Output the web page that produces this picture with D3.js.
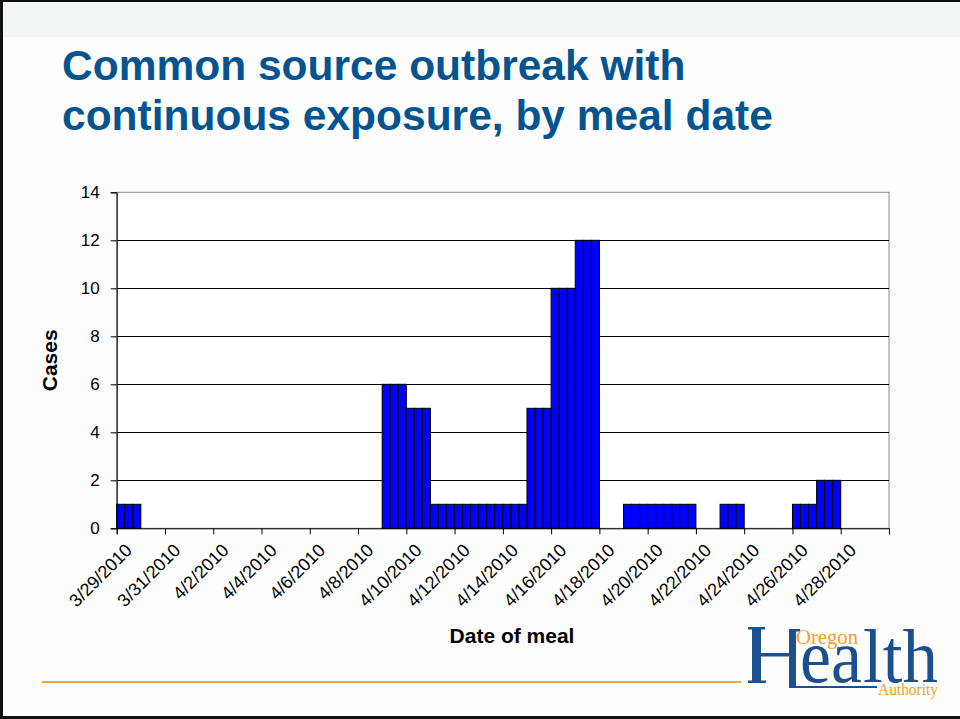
<!DOCTYPE html>
<html>
<head>
<meta charset="utf-8">
<script src="https://cdn.jsdelivr.net/npm/d3@7"></script>
<style>
  html, body { margin: 0; padding: 0; background: #ffffff; }
  svg { display: block; }
</style>
</head>
<body>
<svg id="slide" width="960" height="719"></svg>
<script>
// Meal dates (one per day) and cases per meal date
const mealDates = [
  '3/29/2010','3/30/2010','3/31/2010','4/1/2010','4/2/2010','4/3/2010','4/4/2010','4/5/2010',
  '4/6/2010','4/7/2010','4/8/2010','4/9/2010','4/10/2010','4/11/2010','4/12/2010','4/13/2010',
  '4/14/2010','4/15/2010','4/16/2010','4/17/2010','4/18/2010','4/19/2010','4/20/2010','4/21/2010',
  '4/22/2010','4/23/2010','4/24/2010','4/25/2010','4/26/2010','4/27/2010','4/28/2010','4/29/2010'
];
const cases = [
  1, 0, 0, 0, 0, 0, 0, 0,
  0, 0, 0, 6, 5, 1, 1, 1,
  1, 5, 10, 12, 0, 1, 1, 1,
  0, 1, 0, 0, 1, 2, 0, 0
];
// Each day is split into three meal slots
const mealSlots = ['slot1', 'slot2', 'slot3'];
// Axis labels shown every other day
const dateTickLabels = [
  '3/29/2010','3/31/2010','4/2/2010','4/4/2010','4/6/2010','4/8/2010','4/10/2010','4/12/2010',
  '4/14/2010','4/16/2010','4/18/2010','4/20/2010','4/22/2010','4/24/2010','4/26/2010','4/28/2010'
];
const yTicks = [0, 2, 4, 6, 8, 10, 12, 14];

const titleLines = ['Common source outbreak with', 'continuous exposure, by meal date'];

const svg = d3.select('#slide');
const W = 960, H = 719;

// ---- slide background ----
svg.append('rect').attr('x', 0).attr('y', 0).attr('width', W).attr('height', H).attr('fill', '#fdfdfd');
svg.append('rect').attr('x', 0).attr('y', 0).attr('width', W).attr('height', 37).attr('fill', '#f4f6f6');
// slide frame
svg.append('rect').attr('x', 0).attr('y', 0).attr('width', 3).attr('height', H).attr('fill', '#111');
svg.append('rect').attr('x', 0).attr('y', 0).attr('width', W).attr('height', 2).attr('fill', '#111');
svg.append('rect').attr('x', 0).attr('y', 716).attr('width', W).attr('height', 3).attr('fill', '#111');

// ---- title ----
svg.append('text')
  .attr('x', 62).attr('y', 80)
  .attr('font-family', '"Liberation Sans", Arial, sans-serif')
  .attr('font-weight', 'bold').attr('font-size', 42.5)
  .attr('fill', '#04548f')
  .selectAll('tspan').data(titleLines).join('tspan')
  .attr('x', 62).attr('dy', (d, i) => i === 0 ? 0 : 50)
  .text(d => d);

// ---- chart ----
const plot = { left: 116.7, right: 889, top: 192.3, bottom: 528.3 };
const font = '"Liberation Sans", Arial, sans-serif';

const x = d3.scaleBand().domain(mealDates).range([plot.left, plot.right]).padding(0);
const xSlot = d3.scaleBand().domain(mealSlots).range([0, x.bandwidth()]).padding(0);
const xDay = d3.scaleLinear().domain([0, mealDates.length]).range([plot.left, plot.right]);
const y = d3.scaleLinear().domain([0, 14]).range([plot.bottom, plot.top]);

// plot area
svg.append('rect')
  .attr('x', plot.left).attr('y', plot.top)
  .attr('width', plot.right - plot.left).attr('height', plot.bottom - plot.top)
  .attr('fill', '#ffffff').attr('stroke', '#8a8a8a').attr('stroke-width', 1);

// gridlines
svg.append('g').selectAll('line').data(yTicks.filter(v => v > 0 && v < 14)).join('line')
  .attr('x1', plot.left).attr('x2', plot.right)
  .attr('y1', d => Math.round(y(d)) + 0.5).attr('y2', d => Math.round(y(d)) + 0.5)
  .attr('stroke', '#000').attr('stroke-width', 1);

// bars: each day drawn as three slot bars
const dayG = svg.append('g').selectAll('g').data(mealDates.map((d, i) => ({ date: d, value: cases[i] })))
  .join('g')
  .attr('transform', d => `translate(${x(d.date)},0)`);
dayG.filter(d => d.value > 0)
  .selectAll('rect').data(d => mealSlots.map(s => ({ slot: s, value: d.value }))).join('rect')
  .attr('x', d => xSlot(d.slot))
  .attr('y', d => y(d.value))
  .attr('width', xSlot.bandwidth())
  .attr('height', d => y(0) - y(d.value))
  .attr('fill', '#0000ff')
  .attr('stroke', '#000').attr('stroke-width', 1);

// y axis
const yAxis = svg.append('g')
  .attr('transform', `translate(${plot.left},0)`)
  .call(d3.axisLeft(y).tickValues(yTicks).tickSize(6).tickPadding(11).tickFormat(d3.format('d')));
yAxis.select('.domain').attr('stroke', '#000');
yAxis.selectAll('.tick line').attr('stroke', '#000');
yAxis.selectAll('.tick text')
  .attr('font-family', font).attr('font-size', 17).attr('fill', '#000');

// x axis (tick every two days)
const xTickVals = d3.range(0, mealDates.length + 1, 2);
const xAxis = svg.append('g')
  .attr('transform', `translate(0,${plot.bottom})`)
  .call(d3.axisBottom(xDay).tickValues(xTickVals).tickSize(6)
    .tickFormat(d => dateTickLabels[d / 2] || ''));
xAxis.select('.domain').attr('stroke', '#000');
xAxis.selectAll('.tick line').attr('stroke', '#000');
xAxis.selectAll('.tick text')
  .attr('font-family', font).attr('font-size', 18).attr('fill', '#000')
  .attr('text-anchor', 'end')
  .attr('dy', null)
  .attr('y', 0)
  .attr('transform', 'translate(16,23) rotate(-45)');

// axis titles
svg.append('text')
  .attr('x', 512).attr('y', 643)
  .attr('text-anchor', 'middle')
  .attr('font-family', font).attr('font-weight', 'bold').attr('font-size', 21)
  .text('Date of meal');
svg.append('text')
  .attr('transform', `translate(57,${(plot.top + plot.bottom) / 2}) rotate(-90)`)
  .attr('text-anchor', 'middle')
  .attr('font-family', font).attr('font-weight', 'bold').attr('font-size', 21)
  .text('Cases');

// ---- footer rule ----
svg.append('rect').attr('x', 42).attr('y', 681).attr('width', 699).attr('height', 2).attr('fill', '#f0a43a');

// ---- logo ----
const logo = svg.append('g');
const navy = '#1b4f8d', orange = '#f0a030';
const serif = '"Liberation Serif", "Times New Roman", serif';
// left stem of H with serifs
logo.append('rect').attr('x', 752).attr('y', 628).attr('width', 9).attr('height', 55).attr('fill', navy);
logo.append('rect').attr('x', 748).attr('y', 627).attr('width', 17).attr('height', 2.5).attr('fill', navy);
logo.append('rect').attr('x', 748).attr('y', 680.5).attr('width', 18).attr('height', 2.5).attr('fill', navy);
// crossbar
logo.append('rect').attr('x', 761).attr('y', 653).attr('width', 28).attr('height', 3.5).attr('fill', navy);
// bracket stem, top arm, long underline
logo.append('rect').attr('x', 789).attr('y', 629).attr('width', 7).attr('height', 59).attr('fill', navy);
logo.append('rect').attr('x', 789).attr('y', 629).attr('width', 11).attr('height', 2.5).attr('fill', navy);
logo.append('rect').attr('x', 789).attr('y', 686).attr('width', 88).attr('height', 2).attr('fill', navy);
logo.append('text').attr('x', 796).attr('y', 644)
  .attr('font-family', serif).attr('font-size', 21).attr('fill', orange)
  .attr('textLength', 62).attr('lengthAdjust', 'spacingAndGlyphs')
  .text('Oregon');
logo.append('text').attr('x', 800).attr('y', 682)
  .attr('font-family', serif).attr('font-size', 76).attr('fill', navy)
  .attr('textLength', 62).attr('lengthAdjust', 'spacingAndGlyphs')
  .text('ea');
logo.append('text').attr('x', 863).attr('y', 682)
  .attr('font-family', serif).attr('font-size', 76).attr('fill', navy)
  .attr('textLength', 75).attr('lengthAdjust', 'spacingAndGlyphs')
  .text('lth');
logo.append('text').attr('x', 878).attr('y', 695)
  .attr('font-family', serif).attr('font-size', 16).attr('fill', orange)
  .attr('textLength', 60).attr('lengthAdjust', 'spacingAndGlyphs')
  .text('Authority');
</script>
</body>
</html>
